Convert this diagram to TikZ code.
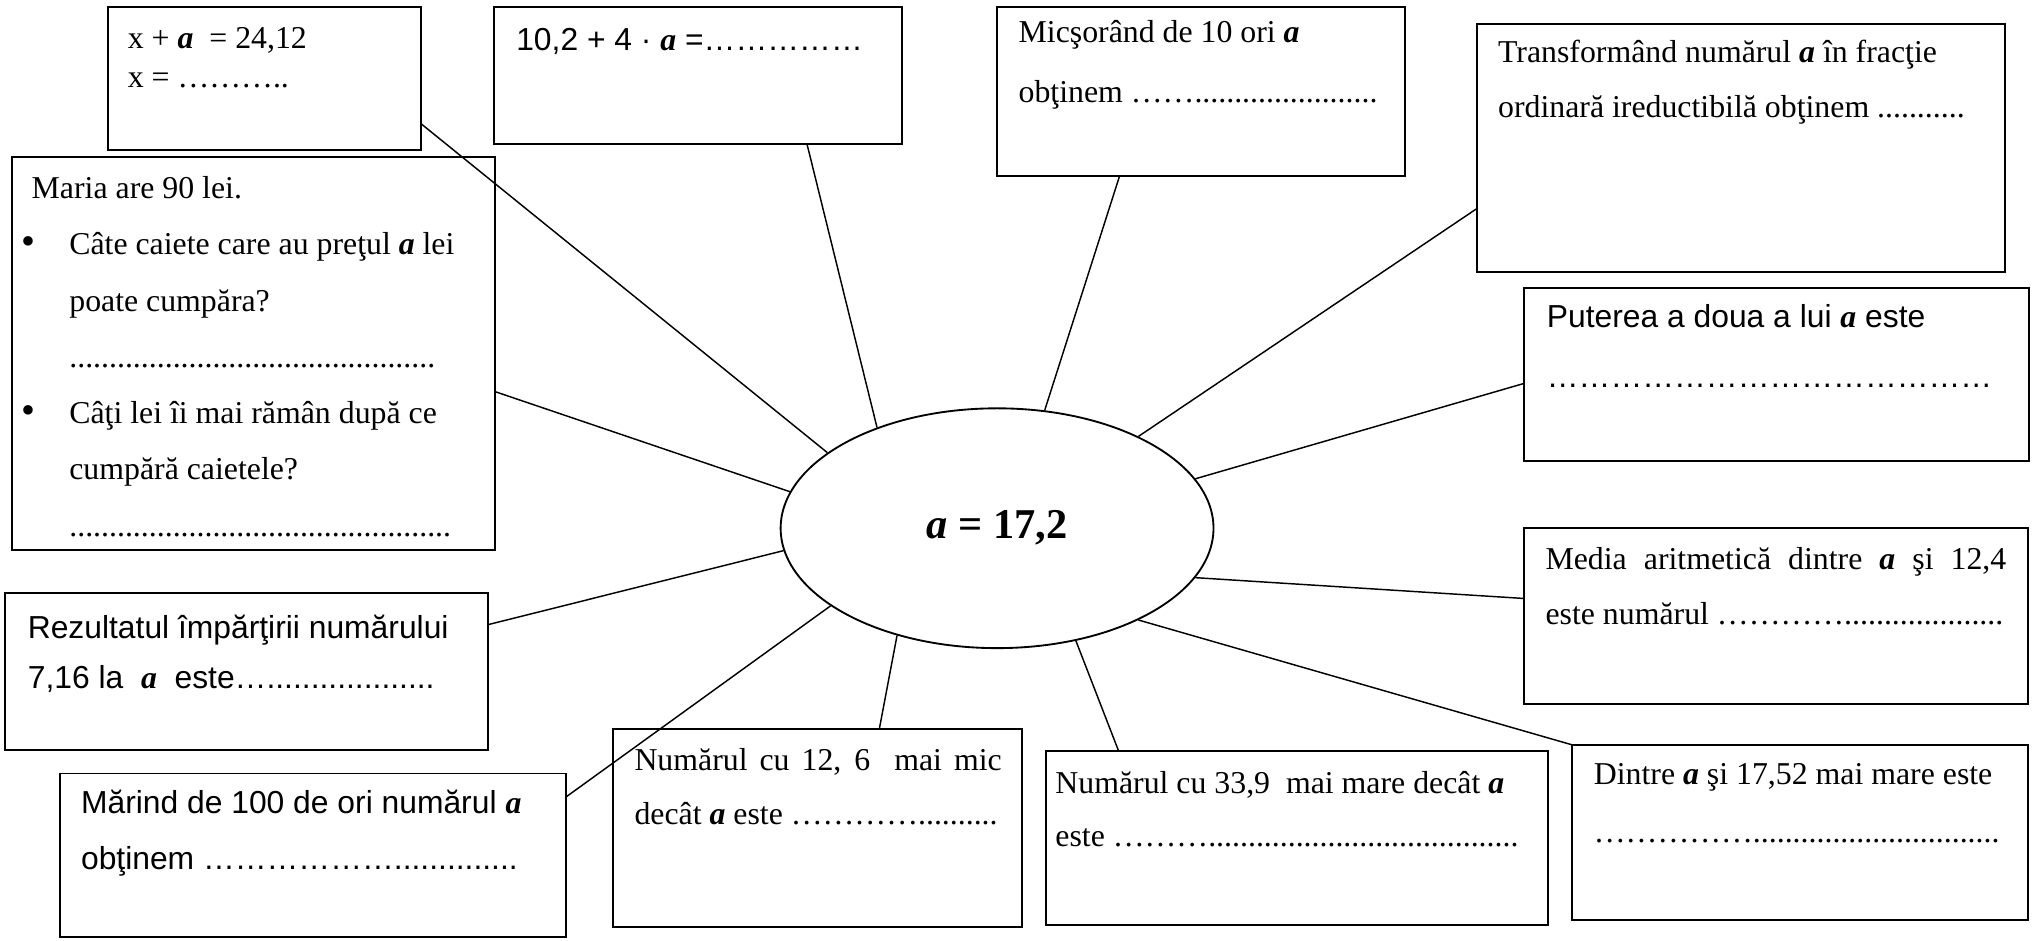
\documentclass[tikz,border=0pt]{standalone}
\usepackage{fontspec}
\setmainfont{Liberation Serif}
\newfontfamily\arialf{Liberation Sans}
\usetikzlibrary{shapes.geometric}
\newcommand{\aval}{{\rmfamily\bfseries\itshape a}}
\newcommand{\bigbul}{{\fontsize{15}{15}\selectfont •}}

\begin{document}
\begin{tikzpicture}[x=0.49pt,y=-0.49pt]
\tikzset{card/.style 2 args = {draw, line width=0.75pt, anchor=north west, inner sep=0pt, outer sep=0pt, minimum width=#1*0.49pt, minimum height=#2*0.49pt}}
\tikzset{txt/.style = {anchor=base west, inner sep=0pt, font=\fontsize{12}{#1}\selectfont}}
\tikzset{link/.style = {line width=0.55pt}}
\useasboundingbox (0,0) rectangle (1568,724);
% boxes
\node[card={241}{110}]     (boxA) at (83,5.6) {};
\node[card={314}{105.2}]   (boxB) at (380,5.6) {};
\node[card={314}{129.8}]   (boxC) at (767.5,5.6) {};
\node[card={406.8}{190.5}] (boxD) at (1136.6,18.5) {};
\node[card={371.7}{302}]   (boxE) at (9.3,121) {};
\node[card={388.5}{133.2}] (boxF) at (1173,221.8) {};
\node[card={387.6}{135.1}] (boxG) at (1173.4,406.7) {};
\node[card={372}{120.2}]   (boxH) at (4,456.8) {};
\node[card={389.5}{125.6}] (boxI) at (46.5,595.4) {};
\node[card={315.1}{152.3}] (boxJ) at (471.7,561.3) {};
\node[card={386.4}{133.7}] (boxK) at (805,578.3) {};
\node[card={351}{134.7}]   (boxL) at (1210,573.3) {};
% centre
\node[draw, ellipse, line width=0.7pt, inner sep=0pt, minimum width=333.2*0.49pt, minimum height=184.6*0.49pt] (ell) at (767.5,406.6)
  {\fontsize{16}{19}\selectfont\bfseries\itshape a \upshape= 17,2};
% texts
\node[txt=14.7pt] (tA) at (98,37) {\parbox[t]{110pt}{x + \aval\ \ = 24,12\\ x = ………..}};
\node[txt=14pt] (tB) at (397,39) {\parbox[t]{150pt}{\arialf 10,2 + 4 · \aval{} =……………}};
\node[txt=22.5pt] (tC) at (783.7,33) {\parbox[t]{150pt}{Micşorând de 10 ori \aval\\ obţinem …….......................}};
\node[txt=20.7pt] (tD) at (1152.8,48.3) {\parbox[t]{190pt}{Transformând numărul \aval{} în fracţie\\ ordinară ireductibilă obţinem ...........}};
\node[txt=21.2pt] (tE) at (24,153) {\parbox[t]{170pt}{Maria are 90 lei.\\
\makebox[14.2pt][l]{\kern-4pt\bigbul}Câte caiete care au preţul \aval{} lei\\
\hspace*{14.2pt}poate cumpăra?\\
\hspace*{14.2pt}..............................................\\
\makebox[14.2pt][l]{\kern-4pt\bigbul}Câţi lei îi mai rămân după ce\\
\hspace*{14.2pt}cumpără caietele?\\
\hspace*{14.2pt}................................................}};
\node[txt=22.7pt] (tF) at (1190.3,252) {\parbox[t]{180pt}{\arialf Puterea a doua a lui \aval{} este\\ ……………………………………}};
\node[txt=20.7pt] (tG) at (1189.3,438.3) {\parbox[t]{180pt}{\makebox[173.8pt][s]{Media aritmetică dintre \aval{} şi 12,4}\\ este numărul …………....................}};
\node[txt=18.7pt] (tH) at (21,491.5) {\parbox[t]{170pt}{\arialf Rezultatul împărţirii numărului\\ 7,16 la\ \ \aval\ \ este…...................}};
\node[txt=21.1pt] (tI) at (62,626) {\parbox[t]{180pt}{\arialf Mărind de 100 de ori numărul \aval\\ obţinem ………………..............}};
\node[txt=20.6pt] (tJ) at (488,593) {\parbox[t]{145pt}{\makebox[138.5pt][s]{Numărul cu 12, 6\ \ mai mic}\\ decât \aval{} este …………..........}};
\node[txt=19.9pt] (tK) at (812,611) {\parbox[t]{180pt}{Numărul cu 33,9\ \ mai mare decât \aval\\ este ……….......................................}};
\node[txt=22pt] (tL) at (1226.5,603.7) {\parbox[t]{160pt}{Dintre \aval{} şi 17,52 mai mare este\\ ……………...............................}};
%edges
\draw[link] (boxA.-16.5) -- (ell.156.9);
\draw[link] (boxB.-32.3) -- (ell.140.4);
\draw[link] (boxC.-134.2) -- (ell.68.2);
\draw[link] (boxD.193.9) -- (ell.33.6);
\draw[link] (boxE.-9.2) -- (ell.170.4);
\draw[link] (boxF.182.2) -- (ell.14);
\draw[link] (boxG.176.3) -- (ell.-14);
\draw[link] (boxH.11.5) -- (ell.186.4);
\draw[link] (boxI.13.4) -- (ell.205.3);
\draw[link] (boxJ.58.6) -- (ell.-133);
\draw[link] (boxK.154) -- (ell.-55);
\draw[link] (boxL.north west) -- (ell.-33.8);
\end{tikzpicture}
\end{document}
